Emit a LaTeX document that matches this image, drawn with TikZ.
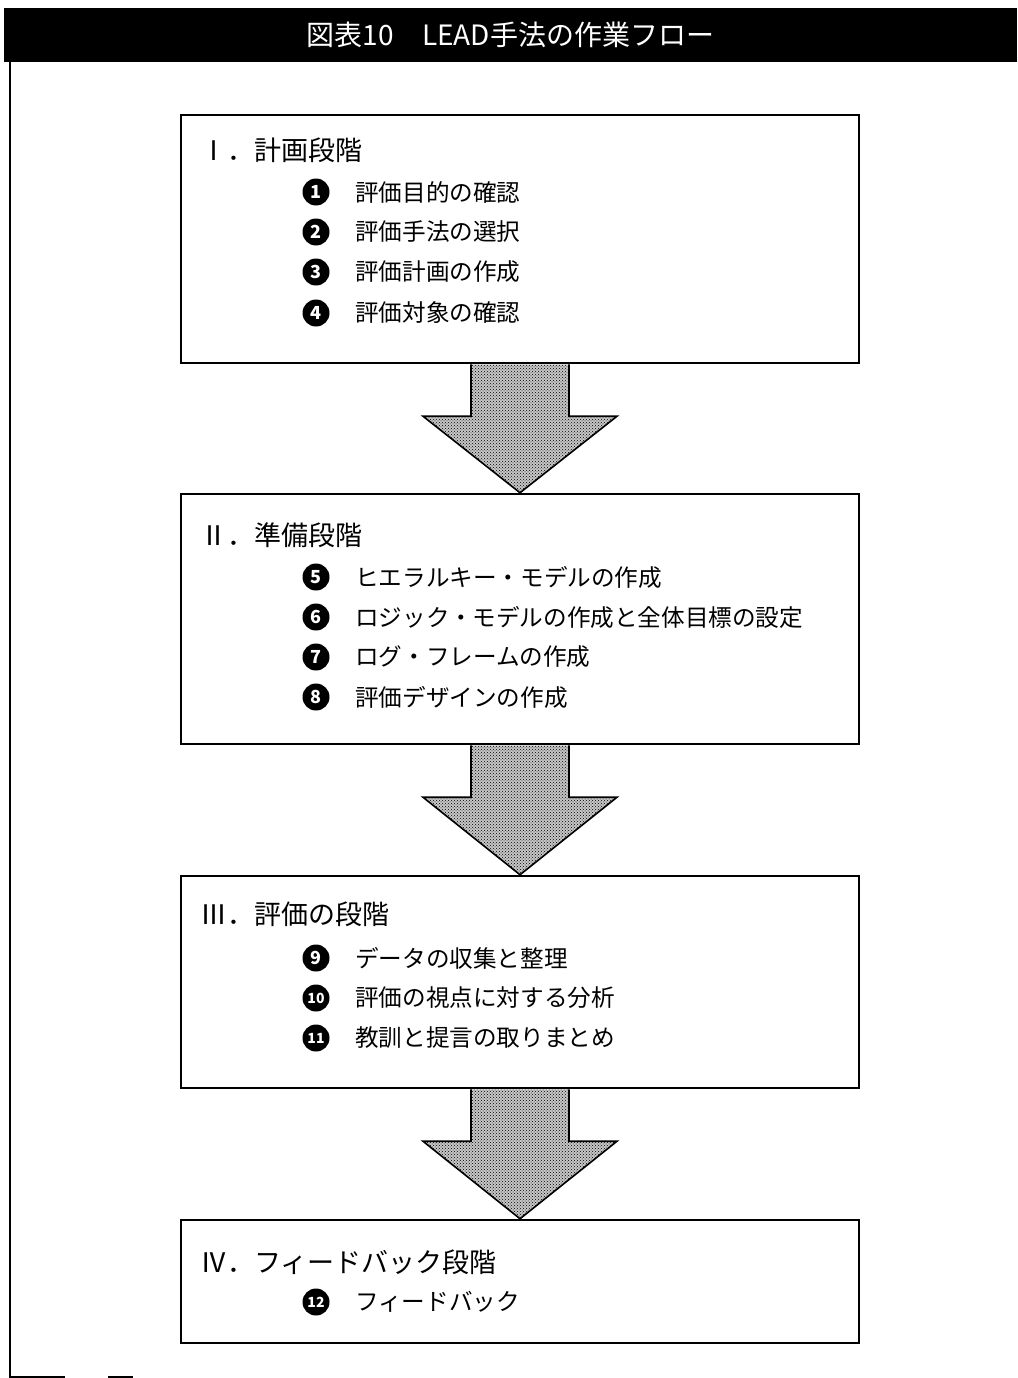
\documentclass[tikz,border=0pt]{standalone}
\usepackage{fontspec}
\setmainfont{Noto Sans CJK JP}
\usetikzlibrary{calc,patterns}
\tikzset{
  stagebox/.style={draw, line width=2.5pt, minimum width=678pt, inner sep=0pt},
  head/.style={anchor=west, font=\fontsize{27}{27}\selectfont, inner sep=0pt},
  item/.style={anchor=west, font=\fontsize{23.6}{24}\selectfont, inner sep=0pt},
  num/.style={circle, fill=black, text=white, minimum size=27pt, inner sep=0pt, font=\bfseries\fontsize{18}{18}\selectfont},
  numtwo/.style={num, font=\bfseries\fontsize{14}{14}\selectfont},
  blockarrow/.style={draw, line width=1.6pt, fill=black!22, postaction={pattern=crosshatch dots}, line join=miter},
  framepart/.style={line width=1.6pt},
}
\newcommand\blockdown[2]{%
  \path[blockarrow] ($(#1.south)+(-49,0)$) -- ($(#1.south)+(-49,52)$) -- ($(#1.south)+(-97,52)$) -- (#2.north) -- ($(#1.south)+(97,52)$) -- ($(#1.south)+(49,52)$) -- ($(#1.south)+(49,0)$);}
\begin{document}
\begin{tikzpicture}[x=1pt,y=-1pt]
\useasboundingbox (0,0) rectangle (1017,1378);
% title bar
\node[fill=black, text=white, minimum width=1013pt, minimum height=54pt, inner sep=0pt,
      font=\fontsize{28}{28}\selectfont] (title) at (510.5,35) {図表10　LEAD手法の作業フロー};
% outer frame scraps
\draw[framepart] (10,62) -- (10,1377) -- (65,1377);
\draw[framepart] (108,1377) -- (133,1377);
% boxes
\node[stagebox, minimum height=248pt] (b1) at (520,239) {};
\node[stagebox, minimum height=250pt] (b2) at (520,619) {};
\node[stagebox, minimum height=212pt] (b3) at (520,982) {};
\node[stagebox, minimum height=123pt] (b4) at (520,1281.5) {};
% arrows
\blockdown{b1}{b2}
\blockdown{b2}{b3}
\blockdown{b3}{b4}
% box 1
\node[head] (h1) at (200,150) {Ⅰ．計画段階};
\node[num] (n1) at (316,192) {1};
\node[item] (t1) at (355,192) {評価目的の確認};
\node[num] (n2) at (316,232) {2};
\node[item] (t2) at (355,232) {評価手法の選択};
\node[num] (n3) at (316,272) {3};
\node[item] (t3) at (355,272) {評価計画の作成};
\node[num] (n4) at (316,313) {4};
\node[item] (t4) at (355,313) {評価対象の確認};
% box 2
\node[head] (h2) at (200,535) {Ⅱ．準備段階};
\node[num] (n5) at (316,577) {5};
\node[item] (t5) at (355,577) {ヒエラルキー・モデルの作成};
\node[num] (n6) at (316,617) {6};
\node[item] (t6) at (355,617) {ロジック・モデルの作成と全体目標の設定};
\node[num] (n7) at (316,657) {7};
\node[item] (t7) at (355,657) {ログ・フレームの作成};
\node[num] (n8) at (316,697) {8};
\node[item] (t8) at (355,697) {評価デザインの作成};
% box 3
\node[head] (h3) at (200,914) {Ⅲ．評価の段階};
\node[num] (n9) at (316,958) {9};
\node[item] (t9) at (355,958) {データの収集と整理};
\node[numtwo] (n10) at (316,998) {10};
\node[item] (t10) at (355,998) {評価の視点に対する分析};
\node[numtwo] (n11) at (316,1038) {11};
\node[item] (t11) at (355,1038) {教訓と提言の取りまとめ};
% box 4
\node[head] (h4) at (200,1262) {Ⅳ．フィードバック段階};
\node[numtwo] (n12) at (316,1302) {12};
\node[item] (t12) at (355,1302) {フィードバック};
\end{tikzpicture}
\end{document}
